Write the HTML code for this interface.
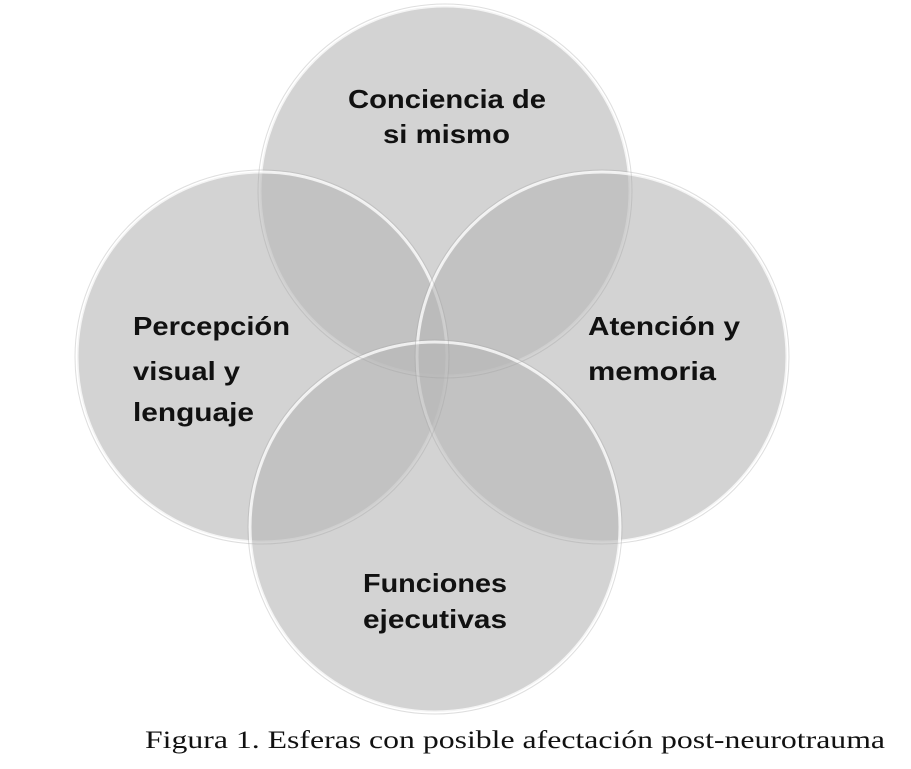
<!DOCTYPE html>
<html><head><meta charset="utf-8"><style>
html,body{margin:0;padding:0;background:#fff;width:911px;height:769px;overflow:hidden}
</style></head><body>
<svg width="911" height="769" viewBox="0 0 911 769" xmlns="http://www.w3.org/2000/svg">
<g fill="#b7b7b7" fill-opacity="0.61" stroke="#ffffff" stroke-opacity="0.75" stroke-width="3">
<circle cx="445" cy="191" r="185"/>
<circle cx="262" cy="357" r="185"/>
<circle cx="602" cy="357" r="185"/>
<circle cx="435" cy="527" r="185"/>
</g>
<g fill="none" stroke="#a0a0a0" stroke-opacity="0.35" stroke-width="1">
<circle cx="445" cy="191" r="187"/>
<circle cx="262" cy="357" r="187"/>
<circle cx="602" cy="357" r="187"/>
<circle cx="435" cy="527" r="187"/>
</g>
<g font-family="Liberation Sans, sans-serif" font-weight="bold" font-size="26" fill="#111">
<text x="348" y="108" textLength="198" lengthAdjust="spacingAndGlyphs">Conciencia de</text>
<text x="383" y="143" textLength="127" lengthAdjust="spacingAndGlyphs">si mismo</text>
<text x="133" y="335" textLength="157" lengthAdjust="spacingAndGlyphs">Percepción</text>
<text x="133" y="380" textLength="107" lengthAdjust="spacingAndGlyphs">visual y</text>
<text x="133" y="421" textLength="121" lengthAdjust="spacingAndGlyphs">lenguaje</text>
<text x="588" y="335" textLength="152" lengthAdjust="spacingAndGlyphs">Atención y</text>
<text x="588" y="380" textLength="128" lengthAdjust="spacingAndGlyphs">memoria</text>
<text x="363" y="592" textLength="144" lengthAdjust="spacingAndGlyphs">Funciones</text>
<text x="363" y="628" textLength="144" lengthAdjust="spacingAndGlyphs">ejecutivas</text>
</g>
<text x="145" y="748" font-family="Liberation Serif, serif" font-size="25" fill="#111" textLength="740" lengthAdjust="spacingAndGlyphs">Figura 1. Esferas con posible afectación post-neurotrauma</text>
</svg>
</body></html>
